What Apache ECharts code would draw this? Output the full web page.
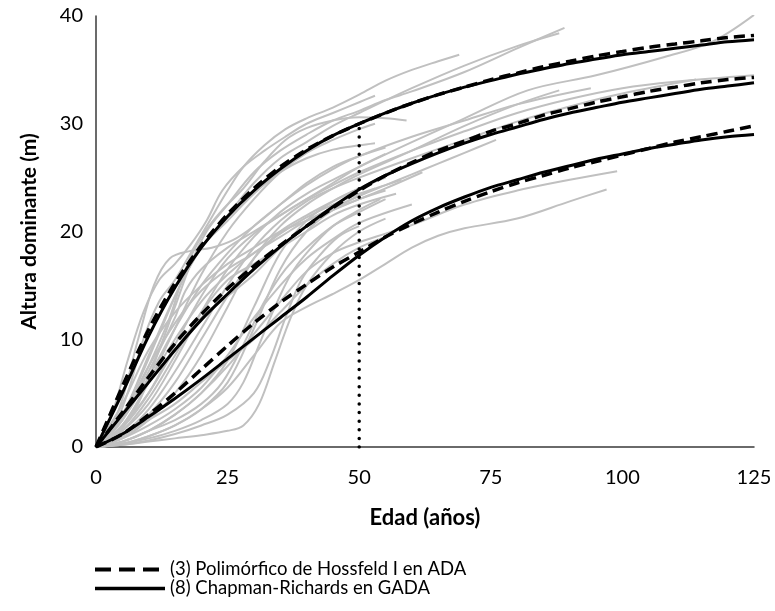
<!DOCTYPE html>
<html>
<head>
<meta charset="utf-8">
<script src="https://cdn.jsdelivr.net/npm/echarts@6/dist/echarts.min.js"></script>
<style>
  html, body { margin: 0; padding: 0; background: #ffffff; }
  #chart { width: 775px; height: 611px; }
</style>
</head>
<body>
<div id="chart"></div>
<script>
// Observed dominant-height trajectories per plot: [age (years), height (m)]
const parcela01 = [[0,0],[3,1.5],[6,5],[9,10],[12,13.5],[15,15.5],[18,18],[21,20.5],[25,23.8],[28,26],[32,28],[36,29.5],[40,30.5],[45,31.5],[50,32.7],[55,34],[60,35],[65,35.8],[69,36.4]];
const parcela02 = [[0,0],[4,1.2],[8,4],[12,9],[15,13],[18,17],[21,20],[25,22.5],[30,25.5],[35,27.5],[40,29],[45,30.3],[50,31.2],[55,32.2],[60,33],[70,34.8],[80,37],[89,38.9]];
const parcela03 = [[0,0],[4,2],[8,6],[12,10.5],[16,15],[20,18.5],[25,21.5],[30,24.5],[35,26.8],[40,28.3],[45,29.8],[50,31],[60,33.3],[70,35.4],[80,37.2],[88,38.4]];
const parcela04 = [[0,0],[5,2.5],[10,7.5],[14,12],[17,16.5],[20,19.5],[24,22],[28,24],[32,26.5],[36,28.5],[40,29.6],[45,30.3],[50,30.6],[55,30.5],[59,30.3]];
const parcela05 = [[0,0],[5,3],[10,8.5],[15,14],[20,18.5],[25,21],[30,23.5],[35,25.5],[40,26.8],[45,27.6],[50,28],[53,28.2]];
const parcela06 = [[0,0],[3,3],[6,8],[9,12.5],[12,15.5],[15,17],[18,18.8],[21,21],[24,23.8],[28,26],[32,27.5],[36,28.8],[40,30],[45,31],[50,32],[53,32.6]];
const parcela07 = [[0,0],[5,2],[10,6],[15,11],[20,16],[25,20],[30,23],[35,25.5],[40,27.3],[45,28.5],[50,29.5],[53,30]];
const parcela08 = [[0,0],[5,1.8],[10,5],[15,9.5],[20,14],[25,17.5],[30,19.8],[35,21.5],[40,23],[45,24.3],[50,25.5],[60,27.5],[70,29.3],[80,31],[90,32.3],[100,33.3],[110,33.9],[125,34.5]];
const parcela09 = [[0,0],[5,1.2],[10,3.5],[15,7],[20,11],[25,15],[30,18.5],[35,21],[40,22.8],[45,24],[50,25],[60,26.8],[70,28.5],[80,30.2],[90,31.6],[100,32.8],[114,34.1]];
const parcela10 = [[0,0],[5,2.5],[10,6.5],[15,11],[20,15],[25,18],[30,20.5],[35,22.5],[40,24.3],[45,25.8],[50,27],[60,28.8],[70,30.3],[80,31.8],[94,33.3]];
const parcela11 = [[0,0],[5,1.5],[10,4],[15,8],[20,12.5],[25,16.5],[30,19.5],[35,21.8],[40,23.5],[45,24.8],[50,26],[60,28.3],[70,30.5],[82,33.1],[95,34.5],[108,36.2],[117,37.6],[125,40.1]];
const parcela12 = [[0,0],[5,0.8],[10,2.5],[15,5],[20,8.5],[25,13],[30,17.5],[35,20.5],[40,22.5],[45,24],[50,25.3],[60,27.5],[70,29.8],[80,31.8],[88,33.1]];
const parcela13 = [[0,0],[5,2],[10,6],[15,10],[20,13.5],[25,16],[30,18],[35,19.5],[40,21],[45,22.2],[50,23.3],[55,24.3],[60,25.3],[65,26.3],[70,27.3],[76,28.5]];
const parcela14 = [[0,0],[5,3],[10,7.5],[15,11.5],[20,14.5],[25,16.5],[30,18],[35,19.8],[40,21.3],[45,22.5],[50,23.5],[55,24.3],[58,24.8]];
const parcela15 = [[0,0],[5,1],[10,3],[15,6],[20,10],[25,14],[30,17.5],[35,20],[40,21.5],[45,22.8],[50,24],[56,25.5]];
const parcela16 = [[0,0],[5,4],[10,9],[15,12.5],[20,15],[25,17],[30,18.5],[35,20],[40,21],[45,22],[50,23],[55,24],[62,25.5]];
const parcela17 = [[0,0],[5,2],[10,5],[15,9],[20,12],[25,14],[30,16],[35,18.5],[40,20.5],[45,22],[50,23],[55,23.8]];
const parcela18 = [[0,0],[5,0.5],[10,1.5],[15,3],[20,5],[25,8],[30,13],[35,18],[40,21],[45,22.8],[50,24],[55,25]];
const parcela19 = [[0,0],[5,0.3],[10,1],[15,2],[20,3.5],[25,6],[30,11],[35,16.5],[40,20],[45,22],[50,23.3],[53,24]];
const parcela20 = [[0,0],[5,1.5],[10,4.5],[15,8.5],[20,12.5],[25,15.5],[30,17],[35,18.5],[40,20],[45,21.5],[50,22.5],[57,23.5]];
const parcela21 = [[0,0],[5,2.5],[10,7],[15,12],[17,14.5],[20,16.5],[25,18.5],[30,20],[35,21.5],[40,23],[45,24.5],[50,26],[55,27.2]];
const parcela22 = [[0,0],[4,3],[8,10],[11,15],[14,17.5],[18,18.2],[22,18.5],[26,19.2],[30,20.5],[35,22.5],[40,24.5],[45,26],[50,27],[55,27.8]];
const parcela23 = [[0,0],[5,0.5],[10,1.5],[15,3],[20,5],[25,7.5],[30,10.5],[35,13.5],[40,16.3],[45,18],[50,19],[55,19.8],[60,20.6],[70,22.5],[80,23.8],[90,24.8],[99,25.6]];
const parcela24 = [[0,0],[5,0.3],[10,1],[15,2],[20,3.5],[25,5.5],[30,8.5],[35,11.5],[40,13],[45,14.2],[50,15.5],[55,17],[60,18.5],[65,19.6],[70,20.3],[80,21.2],[90,22.8],[97,23.9]];
const parcela25 = [[0,0],[5,0.2],[10,0.5],[15,0.8],[20,1.1],[25,1.5],[28,2],[31,4],[34,8],[37,12],[40,15],[45,18],[50,20],[55,21.2]];
const parcela26 = [[0,0],[5,0.3],[10,0.8],[15,1.5],[20,2.5],[25,4],[28,6],[31,9.5],[34,13],[37,16],[40,18],[45,20.5],[50,22],[54,23]];
const parcela27 = [[0,0],[5,0.5],[10,1.5],[15,2.5],[20,4],[24,6],[28,9.5],[32,13.5],[36,16.5],[40,18.5],[45,20.5],[50,21.8],[55,23]];
const parcela28 = [[0,0],[5,0.2],[10,0.6],[15,1.2],[20,2],[25,3],[30,5],[33,8],[36,12],[39,15.5],[42,17.5],[46,19.5],[50,20.5]];
const parcela29 = [[0,0],[5,1],[10,2.5],[15,4],[20,6],[25,8],[30,10],[35,12.5],[40,15],[45,17],[50,18.5],[55,19.5]];
const parcela30 = [[0,0],[5,0.8],[10,2],[15,3.5],[20,5.5],[25,8.5],[30,12],[35,15],[40,17.5],[45,19.3],[50,20.8],[60,22.5]];

const parcelas = [parcela01, parcela02, parcela03, parcela04, parcela05, parcela06, parcela07, parcela08,
  parcela09, parcela10, parcela11, parcela12, parcela13, parcela14, parcela15, parcela16, parcela17,
  parcela18, parcela19, parcela20, parcela21, parcela22, parcela23, parcela24, parcela25, parcela26,
  parcela27, parcela28, parcela29, parcela30];

// Model curves for three site indices (height at reference age 50), every 5 years
const edadesModelo  = [0, 5, 10, 15, 20, 25, 30, 35, 40, 45, 50, 55, 60, 65, 70, 75, 80, 85, 90, 95, 100, 105, 110, 115, 120, 125];
const hossfeldAlto  = [0, 5.6, 10.9, 15.2, 18.7, 21.6, 24.0, 26.0, 27.6, 28.9, 30.0, 31.0, 31.9, 32.7, 33.4, 34.1, 34.7, 35.3, 35.8, 36.3, 36.7, 37.1, 37.4, 37.7, 38.0, 38.2];
const hossfeldMedio = [0, 3.2, 6.5, 9.6, 12.3, 14.7, 16.8, 18.7, 20.5, 22.2, 23.8, 25.2, 26.4, 27.5, 28.4, 29.3, 30.0, 30.8, 31.4, 32.0, 32.5, 33.0, 33.4, 33.8, 34.1, 34.3];
const hossfeldBajo  = [0, 1.2, 3.0, 5.0, 7.2, 9.4, 11.5, 13.4, 15.1, 16.7, 18.1, 19.5, 20.7, 21.8, 22.8, 23.7, 24.5, 25.2, 25.9, 26.5, 27.1, 27.7, 28.3, 28.8, 29.3, 29.8];
const chapmanAlto   = [0, 5.0, 10.3, 14.8, 18.5, 21.4, 23.8, 25.8, 27.5, 28.9, 30.0, 31.0, 31.9, 32.7, 33.4, 34.0, 34.6, 35.1, 35.6, 36.0, 36.4, 36.7, 37.0, 37.3, 37.6, 37.8];
const chapmanMedio  = [0, 3.0, 6.0, 9.0, 11.8, 14.2, 16.5, 18.6, 20.5, 22.3, 23.9, 25.2, 26.3, 27.3, 28.2, 29.0, 29.7, 30.4, 31.0, 31.5, 32.0, 32.4, 32.8, 33.2, 33.5, 33.8];
const chapmanBajo   = [0, 1.2, 2.8, 4.5, 6.3, 8.2, 10.1, 12.0, 13.9, 15.9, 17.8, 19.5, 21.0, 22.2, 23.2, 24.1, 24.8, 25.5, 26.1, 26.7, 27.2, 27.7, 28.1, 28.5, 28.8, 29.0];

// Reference age marker
const edadReferencia = 50;
const alturaReferencia = 30;

const xTicks = [0, 25, 50, 75, 100, 125];
const yTicks = [0, 10, 20, 30, 40];

const nombreHossfeld = '(3) Polimórfico de Hossfeld I en ADA';
const nombreChapman = '(8) Chapman-Richards en GADA';

const FONT = 'Lato, "Open Sans", sans-serif';

const pares = (ages, h) => ages.map((a, i) => [a, h[i]]);

const series = [];
parcelas.forEach((p, i) => {
  series.push({
    name: 'parcela' + (i + 1),
    type: 'line',
    data: p,
    smooth: 0.35,
    showSymbol: false,
    symbol: 'none',
    silent: true,
    lineStyle: { color: '#c0c0c0', width: 2 },
    z: 2
  });
});

series.push({
  name: 'referencia',
  type: 'line',
  data: [[edadReferencia, 0], [edadReferencia, alturaReferencia]],
  symbol: 'none',
  silent: true,
  lineStyle: { color: '#000', width: 3.5, type: [0.01, 8.6], cap: 'round' },
  z: 5
});

[hossfeldAlto, hossfeldMedio, hossfeldBajo].forEach(h => {
  series.push({
    name: nombreHossfeld,
    type: 'line',
    data: pares(edadesModelo, h),
    smooth: 0.3,
    symbol: 'none',
    silent: true,
    itemStyle: { color: '#000' },
    lineStyle: { color: '#000', width: 3.5, type: [11, 6], cap: 'butt' },
    z: 4
  });
});

[chapmanAlto, chapmanMedio, chapmanBajo].forEach(h => {
  series.push({
    name: nombreChapman,
    type: 'line',
    data: pares(edadesModelo, h),
    smooth: 0.3,
    symbol: 'none',
    silent: true,
    itemStyle: { color: '#000' },
    lineStyle: { color: '#000', width: 3 },
    z: 4
  });
});

const chart = echarts.init(document.getElementById('chart'), null, { renderer: 'canvas' });
chart.setOption({
  animation: false,
  backgroundColor: '#ffffff',
  grid: { left: 96, right: 21, top: 16, bottom: 164, containLabel: false },
  xAxis: {
    type: 'value',
    min: xTicks[0],
    max: xTicks[xTicks.length - 1],
    interval: 25,
    name: 'Edad (años)',
    nameLocation: 'middle',
    nameGap: 60,
    nameTextStyle: { fontFamily: FONT, fontWeight: 'bold', fontSize: 22, color: '#000' },
    axisLine: { show: true, lineStyle: { color: '#3a3a3a', width: 1.5 } },
    axisTick: { show: false },
    splitLine: { show: false },
    axisLabel: { fontFamily: FONT, fontSize: 20, color: '#000', margin: 21 }
  },
  yAxis: {
    type: 'value',
    min: yTicks[0],
    max: yTicks[yTicks.length - 1],
    interval: 10,
    name: 'Altura dominante (m)',
    nameLocation: 'middle',
    nameGap: 56,
    nameRotate: 90,
    nameTextStyle: { fontFamily: FONT, fontWeight: 'bold', fontSize: 21, color: '#000' },
    axisLine: { show: true, lineStyle: { color: '#3a3a3a', width: 1.5 } },
    axisTick: { show: false },
    splitLine: { show: false },
    axisLabel: { fontFamily: FONT, fontSize: 20, color: '#000', margin: 13 }
  },
  legend: {
    data: [
      { name: nombreHossfeld, lineStyle: { type: [16, 8], width: 4, cap: 'butt' } },
      { name: nombreChapman, lineStyle: { width: 3.5 } }
    ],
    orient: 'vertical',
    left: 88,
    top: 555,
    itemWidth: 70,
    itemHeight: 14,
    itemGap: 0,
    selectedMode: false,
    itemStyle: { opacity: 0 },
    textStyle: { fontFamily: FONT, fontSize: 18.5, color: '#000', lineHeight: 19 }
  },
  series: series
});
</script>
</body>
</html>
